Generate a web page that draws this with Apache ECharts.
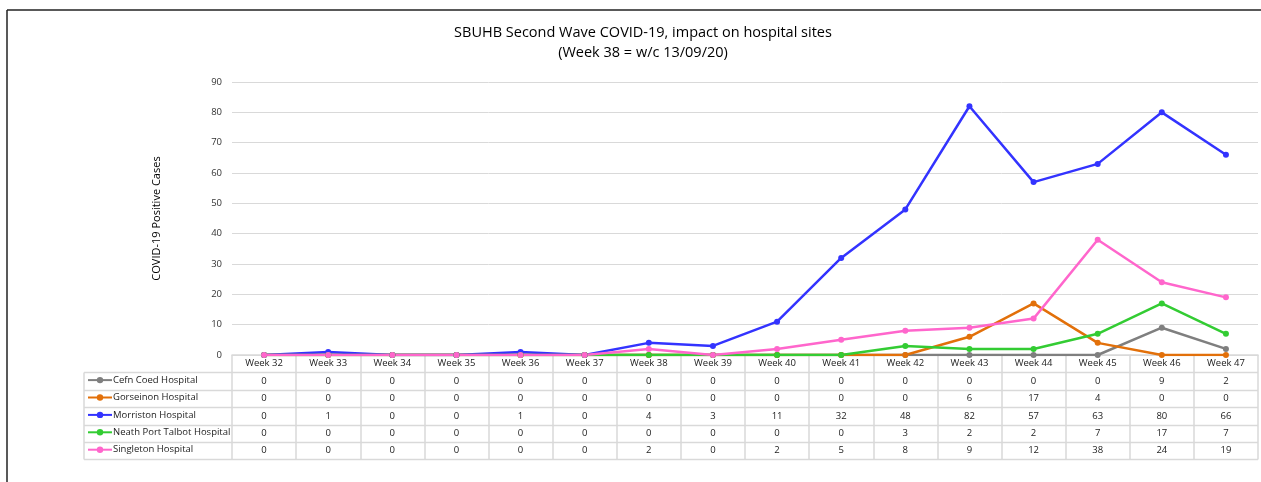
<!DOCTYPE html>
<html>
<head>
<meta charset="utf-8">
<title>SBUHB Second Wave COVID-19</title>
<script src="https://cdn.jsdelivr.net/npm/echarts@6/dist/echarts.min.js"></script>
<style>
  html, body { margin: 0; padding: 0; background: #fff; }
  #main { width: 1261px; height: 482px; }
</style>
</head>
<body>
<div id="main"></div>
<script>
  // weeks on the x axis
  const weeks = ['Week 32', 'Week 33', 'Week 34', 'Week 35', 'Week 36', 'Week 37', 'Week 38', 'Week 39',
    'Week 40', 'Week 41', 'Week 42', 'Week 43', 'Week 44', 'Week 45', 'Week 46', 'Week 47'];
  const hospitals = ['Cefn Coed Hospital', 'Gorseinon Hospital', 'Morriston Hospital', 'Neath Port Talbot Hospital', 'Singleton Hospital'];
  const cefnCoed = [0, 0, 0, 0, 0, 0, 0, 0, 0, 0, 0, 0, 0, 0, 9, 2];
  const gorseinon = [0, 0, 0, 0, 0, 0, 0, 0, 0, 0, 0, 6, 17, 4, 0, 0];
  const morriston = [0, 1, 0, 0, 1, 0, 4, 3, 11, 32, 48, 82, 57, 63, 80, 66];
  const neathPortTalbot = [0, 0, 0, 0, 0, 0, 0, 0, 0, 0, 3, 2, 2, 7, 17, 7];
  const singleton = [0, 0, 0, 0, 0, 0, 2, 0, 2, 5, 8, 9, 12, 38, 24, 19];
  const yTicks = [0, 10, 20, 30, 40, 50, 60, 70, 80, 90];

  const seriesData = [cefnCoed, gorseinon, morriston, neathPortTalbot, singleton];
  const colors = ['#7f7f7f', '#e2700a', '#3333ff', '#33cc33', '#ff66cc'];

  // layout of plot + data table
  const plotLeft = 232, plotRight = 1258, plotTop = 82, plotBottom = 355;
  const rowH = 17.4;
  const tableLeft = 84;
  const font = 'Open Sans';
  const gridColor = '#d9d9d9';

  const chart = echarts.init(document.getElementById('main'));

  const graphics = [
    // outer frame (top + left)
    { type: 'line', shape: { x1: 7, y1: 10, x2: 1261, y2: 10 }, style: { stroke: '#222', lineWidth: 1.5 } },
    { type: 'line', shape: { x1: 7, y1: 10, x2: 7, y2: 482 }, style: { stroke: '#222', lineWidth: 1.5 } },
    // legend column left edge
    { type: 'line', shape: { x1: tableLeft, y1: plotBottom + rowH, x2: tableLeft, y2: plotBottom + rowH * 6 },
      style: { stroke: gridColor, lineWidth: 1.5 } }
  ];
  for (let k = 1; k <= 6; k++) {
    const y = Math.round(plotBottom + rowH * k) + 0.5;
    graphics.push({ type: 'line', shape: { x1: tableLeft, y1: y, x2: plotRight, y2: y },
      style: { stroke: gridColor, lineWidth: 1.5 } });
  }

  // one legend per table row so each sits in its own cell
  const legends = hospitals.map((h, i) => ({
    data: [h],
    left: tableLeft + 3,
    top: plotBottom + rowH * (i + 1) + rowH / 2 - 6,
    itemWidth: 24,
    itemHeight: 8,
    itemGap: 2,
    padding: 0,
    textStyle: { fontFamily: font, fontSize: 9.5, color: '#222', padding: [0, 0, 0, -4] }
  }));

  chart.setOption({
    animation: false,
    title: {
      text: 'SBUHB Second Wave COVID-19, impact on hospital sites\n(Week 38 = w/c 13/09/20)',
      left: 638,
      top: 18,
      textAlign: 'center',
      textStyle: { fontFamily: font, fontSize: 14.5, fontWeight: 'normal', color: '#000', lineHeight: 20 }
    },
    legend: legends,
    grid: { left: plotLeft, right: 1261 - plotRight, top: plotTop, bottom: 482 - plotBottom },
    xAxis: {
      type: 'category',
      data: weeks,
      boundaryGap: true,
      axisLine: { show: true, lineStyle: { color: gridColor, width: 1.5 } },
      axisTick: { show: true, interval: 0, length: rowH * 6, lineStyle: { color: gridColor, width: 1.5 } },
      axisLabel: {
        interval: 0,
        margin: 0,
        fontFamily: font,
        fontSize: 9.5,
        color: '#222',
        lineHeight: rowH,
        formatter: (v, idx) => [v].concat(seriesData.map(s => s[idx])).join('\n')
      }
    },
    yAxis: {
      type: 'value',
      min: yTicks[0],
      max: yTicks[yTicks.length - 1],
      interval: 10,
      name: 'COVID-19 Positive Cases',
      nameLocation: 'middle',
      nameGap: 70,
      nameTextStyle: { fontFamily: font, fontSize: 11, color: '#000' },
      axisLine: { show: false },
      axisTick: { show: false },
      axisLabel: { fontFamily: font, fontSize: 9.5, color: '#333', margin: 10 },
      splitLine: { lineStyle: { color: gridColor, width: 1 } }
    },
    series: hospitals.map((h, i) => ({
      name: h,
      type: 'line',
      data: seriesData[i],
      color: colors[i],
      symbol: 'circle',
      symbolSize: 6,
      lineStyle: { width: 2.5 }
    })),
    graphic: graphics
  });
</script>
</body>
</html>
